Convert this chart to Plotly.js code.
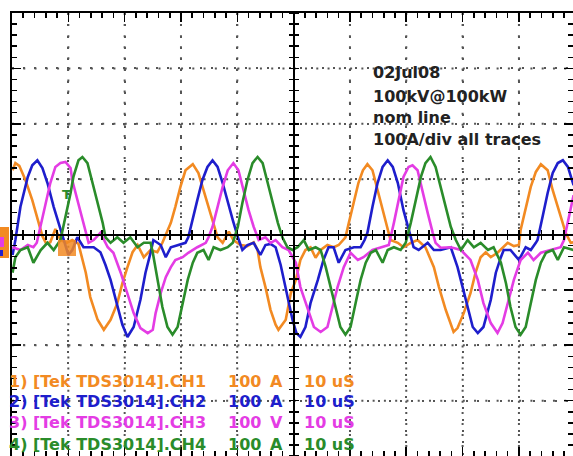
<!DOCTYPE html>
<html>
<head>
<meta charset="utf-8">
<script src="https://cdn.plot.ly/plotly-3.0.1.min.js"></script>
<style>html,body{margin:0;padding:0;background:#fff;overflow:hidden}#chart{width:573px;height:456px}</style>
</head>
<body>
<div id="chart"></div>
<script>
// time in microseconds (10 us/div), current in amperes (100 A/div)
const ch1T = [-49.9,-49.4,-48.7,-47.6,-46.4,-45.3,-44.6,-43.9,-43.2,-42.3,-41.4,-40.3,-39.3,-38.2,-36.9,-36.1,-34.8,-33.7,-32.5,-31.3,-30.4,-29.5,-28.6,-27.7,-26.6,-25.4,-24.2,-23.3,-21.8,-21.0,-20.1,-19.2,-17.9,-16.9,-16.0,-15.1,-14.2,-13.5,-12.6,-11.5,-10.7,-9.4,-8.2,-7.1,-6.4,-5.9,-5.0,-4.1,-3.2,-2.7,-1.4,-0.5,0.4,1.2,2.1,3.0,3.9,4.8,6.0,7.1,8.0,9.2,9.8,10.7,11.5,12.3,13.1,14.0,14.9,15.8,16.7,17.2,18.5,19.5,20.8,22.0,23.4,24.9,25.8,27.0,28.4,29.1,30.2,31.4,32.3,33.2,34.1,35.0,36.2,37.3,38.0,39.1,40.0,40.3,41.2,42.1,43.0,43.9,45.1,46.0,46.9,47.8,48.3,49.2,49.7];
const ch1A = [116,129,124,98,62,23,-3,-17,-14,10,-10,-15,-10,-17,-69,-113,-154,-172,-154,-124,-88,-59,-32,-19,-41,-28,-32,-15,21,50,86,116,127,111,80,50,21,-5,-15,5,-10,-19,-21,-14,-28,-59,-95,-136,-163,-172,-154,-106,-82,-46,-28,-23,-42,-28,-19,-23,-19,-5,21,57,93,116,127,116,80,44,8,-10,-15,-23,-15,-10,-23,-59,-95,-136,-176,-169,-142,-106,-69,-41,-32,-41,-33,-23,-15,-21,-19,8,50,86,113,127,116,80,50,21,3,-15,-14];

const ch2T = [-49.9,-49.4,-48.5,-47.2,-46.4,-45.5,-44.6,-43.7,-42.6,-41.4,-40.7,-40.0,-39.3,-38.4,-37.3,-35.5,-34.3,-33.4,-32.5,-31.3,-30.4,-29.5,-28.4,-27.2,-26.3,-25.4,-24.9,-23.6,-22.7,-21.8,-20.4,-19.2,-18.7,-17.9,-17.1,-16.2,-15.3,-14.4,-13.5,-12.6,-11.7,-10.8,-9.9,-9.1,-8.2,-7.1,-5.9,-5.0,-4.1,-3.2,-2.3,-1.4,-0.2,0.5,1.2,2.1,3.0,4.3,5.3,6.2,7.1,8.0,9.2,10.7,11.9,12.6,13.1,14.0,14.9,15.8,16.7,17.6,18.5,19.5,20.4,21.3,22.2,23.8,24.9,26.1,27.9,29.1,30.0,30.9,31.8,32.7,33.7,35.0,35.9,36.8,37.3,38.5,40.0,41.2,42.1,43.0,43.3,44.2,45.1,46.0,46.9,47.8,48.7,49.7];
const ch2A = [-37,-10,50,104,125,134,120,93,50,8,-15,-37,-28,-5,-23,-23,-32,-55,-82,-131,-163,-185,-167,-118,-69,-33,-10,-19,-41,-23,-19,-15,-5,26,62,98,122,134,122,93,57,26,-5,-28,-19,-15,-37,-19,-17,-23,-55,-95,-154,-178,-185,-167,-124,-82,-46,-23,-23,-51,-28,-23,-23,-10,3,50,93,122,134,122,93,44,8,-23,-28,-15,-28,-28,-23,-59,-95,-131,-167,-178,-167,-118,-69,-41,-28,-28,-46,-23,-28,-15,-10,32,75,111,129,134,122,89];

const ch3T = [-49.9,-48.5,-47.2,-46.2,-45.6,-44.9,-44.0,-43.2,-42.3,-41.4,-40.5,-39.6,-39.3,-38.4,-37.5,-36.9,-36.4,-35.5,-34.3,-33.0,-32.0,-30.7,-29.5,-28.4,-27.2,-25.9,-25.0,-24.5,-23.6,-22.7,-21.8,-21.0,-19.7,-18.7,-17.1,-15.6,-15.1,-14.4,-13.5,-12.6,-11.7,-10.7,-9.8,-8.9,-8.0,-7.1,-6.2,-5.0,-4.1,-3.2,-2.0,-0.9,0.4,1.2,2.5,3.6,4.8,6.0,6.9,7.8,8.9,10.1,11.4,12.4,14.0,15.5,16.9,17.8,18.7,19.5,20.4,21.1,22.0,22.9,23.8,24.7,25.2,26.1,27.9,29.7,31.4,32.7,33.7,35.0,36.2,37.1,38.0,39.1,40.3,41.6,42.6,43.9,45.6,47.4,48.0,48.7,49.7];
const ch3A = [-23,-28,-19,-23,-15,17,57,93,122,129,131,120,98,62,26,3,-15,-10,3,-23,-33,-69,-106,-142,-169,-178,-172,-142,-106,-77,-59,-46,-41,-33,-23,-15,-5,14,50,86,116,129,116,80,44,14,-10,-5,-15,-10,-23,-28,-51,-95,-136,-167,-176,-167,-131,-95,-59,-33,-46,-41,-28,-23,-19,21,62,104,122,125,116,75,39,3,-15,-24,-23,-28,-46,-82,-124,-160,-178,-160,-124,-82,-46,-33,-46,-33,-28,-23,-10,21,71];

const ch4T = [-49.9,-49.4,-48.5,-47.2,-46.2,-44.9,-43.7,-42.6,-41.4,-40.5,-39.6,-39.1,-38.2,-37.5,-36.6,-35.7,-34.8,-33.9,-33.4,-32.5,-31.3,-30.2,-29.0,-27.7,-26.6,-25.4,-25.0,-24.2,-23.3,-22.4,-21.5,-20.6,-19.7,-18.8,-17.9,-17.1,-16.0,-15.1,-14.2,-13.0,-11.7,-10.8,-9.9,-9.1,-8.2,-7.3,-6.4,-5.5,-4.6,-3.7,-2.8,-2.0,-1.1,-0.2,0.7,1.8,2.7,3.9,4.8,5.7,6.6,7.5,8.3,9.2,10.1,11.0,11.9,12.8,13.7,14.6,15.8,16.7,17.8,19.0,19.9,20.8,21.7,22.6,23.4,24.3,25.2,26.1,27.0,27.9,28.8,29.7,30.9,32.0,33.2,34.5,35.5,36.8,37.7,38.5,39.4,40.3,41.2,42.1,43.0,43.9,44.8,46.0,46.9,48.0,49.7];
const ch4A = [-69,-41,-28,-23,-51,-28,-15,-28,-10,32,75,104,134,140,129,93,57,21,-5,-15,-5,-15,-5,-23,-15,-15,-33,-82,-131,-167,-181,-167,-124,-82,-51,-33,-28,-46,-23,-28,-23,-15,14,57,98,129,140,129,93,57,21,-5,-23,-28,-23,-10,-28,-23,-28,-59,-95,-136,-167,-181,-167,-124,-82,-51,-33,-28,-51,-28,-23,-28,-15,21,62,104,129,140,122,86,50,14,-10,-28,-10,-23,-15,-28,-23,-51,-88,-131,-167,-181,-167,-124,-82,-51,-33,-28,-46,-23,-28];

const channelNames = ["1) [Tek TDS3014].CH1", "2) [Tek TDS3014].CH2", "3) [Tek TDS3014].CH3", "4) [Tek TDS3014].CH4"];
const channelScale = ["100", "100", "100", "100"];
const channelUnit = ["A", "A", "V", "A"];
const timeBase = ["10 uS", "10 uS", "10 uS", "10 uS"];
const noteLines = ["02Jul08", "100kV@100kW", "nom line", "100A/div all traces"];
const timeDivs = [-40, -30, -20, -10, 10, 20, 30, 40];
const ampDivs = [-300, -200, -100, 100, 200, 300];

(function () {
  const colors = ["#F28A22", "#1E1ECC", "#E43CE4", "#2A8C2A"];
  const series = [[ch1T, ch1A], [ch2T, ch2A], [ch3T, ch3A], [ch4T, ch4A]];
  const CW = 573, CH = 456, ML = 12, MT = 13, PWD = 561, PHT = 443;
  const fx = v => (v - ML) / PWD;
  const fy = v => (CH - v) / PHT;
  const XR = [-50, 49.6], YR = [-400, 400];
  const DASH_H = "2px,9.27px", DASH_V = "2px,9.08px", GRID = "#555";

  const data = series.map((s, i) => ({
    type: "scatter", mode: "lines", x: s[0], y: s[1],
    line: {color: colors[i], width: 2.6}, name: channelNames[i]
  }));
  data.push({type: "scatter", mode: "lines", x: [], y: [], xaxis: "x2", yaxis: "y2"});
  data.push({type: "scatter", mode: "lines", x: [], y: [], xaxis: "x3", yaxis: "y3"});

  const edgeAxis = (range, dt, mdt, dash) => ({
    range: range, dtick: dt, tick0: 0, showgrid: true, gridcolor: GRID, gridwidth: 2,
    griddash: dash, zeroline: false, showline: true, linecolor: "#000", linewidth: 2,
    mirror: "ticks", ticks: "inside", ticklen: 9, tickwidth: 1.6, tickcolor: "#000",
    showticklabels: false, fixedrange: true,
    minor: {dtick: mdt, tick0: 0, ticks: "inside", ticklen: 5, tickwidth: 1.6, tickcolor: "#000", showgrid: false}
  });
  const centerAxis = (range, dt, mdt, over, pos, side) => ({
    range: range, dtick: dt, tick0: 0, overlaying: over, anchor: "free", position: pos, side: side,
    showgrid: false, zeroline: false, showline: true, linecolor: "#000", linewidth: 2,
    ticks: "outside", ticklen: 4, tickwidth: 1.6, tickcolor: "#000", showticklabels: false, fixedrange: true,
    minor: {dtick: mdt, tick0: 0, ticks: "outside", ticklen: 4, tickwidth: 1.6, tickcolor: "#000", showgrid: false}
  });

  const anns = [];
  const noteY = [72.5, 96, 117.5, 139];
  noteLines.forEach((t, i) => anns.push({
    xref: "paper", yref: "paper", x: fx(371), y: fy(noteY[i]), xanchor: "left", yanchor: "middle",
    text: "<b>" + t + "</b>", showarrow: false, font: {family: "DejaVu Sans", size: 16, color: "#222"}
  }));
  const legY = [381, 401, 422.5, 444];
  channelNames.forEach((t, i) => {
    const f = {family: "DejaVu Sans", size: 16, color: colors[i]};
    const base = {xref: "paper", yref: "paper", y: fy(legY[i]), xanchor: "left", yanchor: "middle", showarrow: false, font: f};
    anns.push(Object.assign({}, base, {x: fx(7), text: "<b>" + t + "</b>"}));
    anns.push(Object.assign({}, base, {x: fx(226), text: "<b>" + channelScale[i] + "</b>"}));
    anns.push(Object.assign({}, base, {x: fx(268), text: "<b>" + channelUnit[i] + "</b>"}));
    anns.push(Object.assign({}, base, {x: fx(302), text: "<b>" + timeBase[i] + "</b>"}));
  });
  anns.push({xref: "paper", yref: "paper", x: fx(66), y: fy(194), xanchor: "center", yanchor: "middle",
    text: "<b>T</b>", showarrow: false, font: {family: "DejaVu Sans", size: 13, color: colors[3]}});

  const shp = [];
  // dotted division grid, positioned by the axes themselves
  timeDivs.forEach(t => shp.push({type: "line", xref: "x", yref: "paper", x0: t, x1: t, y0: 1, y1: 0, layer: "below",
    line: {color: GRID, width: 2, dash: DASH_V}}));
  ampDivs.forEach(a => shp.push({type: "line", xref: "paper", yref: "y", x0: 0, x1: 1, y0: a, y1: a, layer: "below",
    line: {color: GRID, width: 2, dash: DASH_H}}));
  // channel ground markers and trigger marker
  shp.push({type: "rect", xref: "paper", yref: "paper", x0: fx(0), x1: fx(9), y0: fy(258), y1: fy(227), fillcolor: colors[0], line: {width: 0}});
  shp.push({type: "rect", xref: "paper", yref: "paper", x0: fx(0), x1: fx(4), y0: fy(247), y1: fy(237), fillcolor: colors[2], line: {width: 0}});
  shp.push({type: "rect", xref: "paper", yref: "paper", x0: fx(0), x1: fx(3), y0: fy(256), y1: fy(250), fillcolor: colors[1], line: {width: 0}});
  shp.push({type: "rect", xref: "paper", yref: "paper", x0: fx(58), x1: fx(76), y0: fy(256), y1: fy(240), fillcolor: colors[0], opacity: 0.85, line: {width: 0}});

  const lay = {
    width: CW, height: CH, margin: {l: ML, r: 0, t: MT, b: 0, pad: 0},
    paper_bgcolor: "#fff", plot_bgcolor: "#fff", showlegend: false,
    xaxis: edgeAxis(XR, 10, 2, DASH_H),
    yaxis: edgeAxis(YR, 100, 20, DASH_V),
    xaxis2: centerAxis(XR, 10, 2, "x", 0.5, "bottom"),
    xaxis3: centerAxis(XR, 10, 2, "x", 0.5, "top"),
    yaxis2: centerAxis(YR, 100, 20, "y", 0.502, "left"),
    yaxis3: centerAxis(YR, 100, 20, "y", 0.502, "right"),
    annotations: anns, shapes: shp
  };

  Plotly.newPlot("chart", data, lay, {staticPlot: true, displayModeBar: false});
})();
</script>
</body>
</html>
